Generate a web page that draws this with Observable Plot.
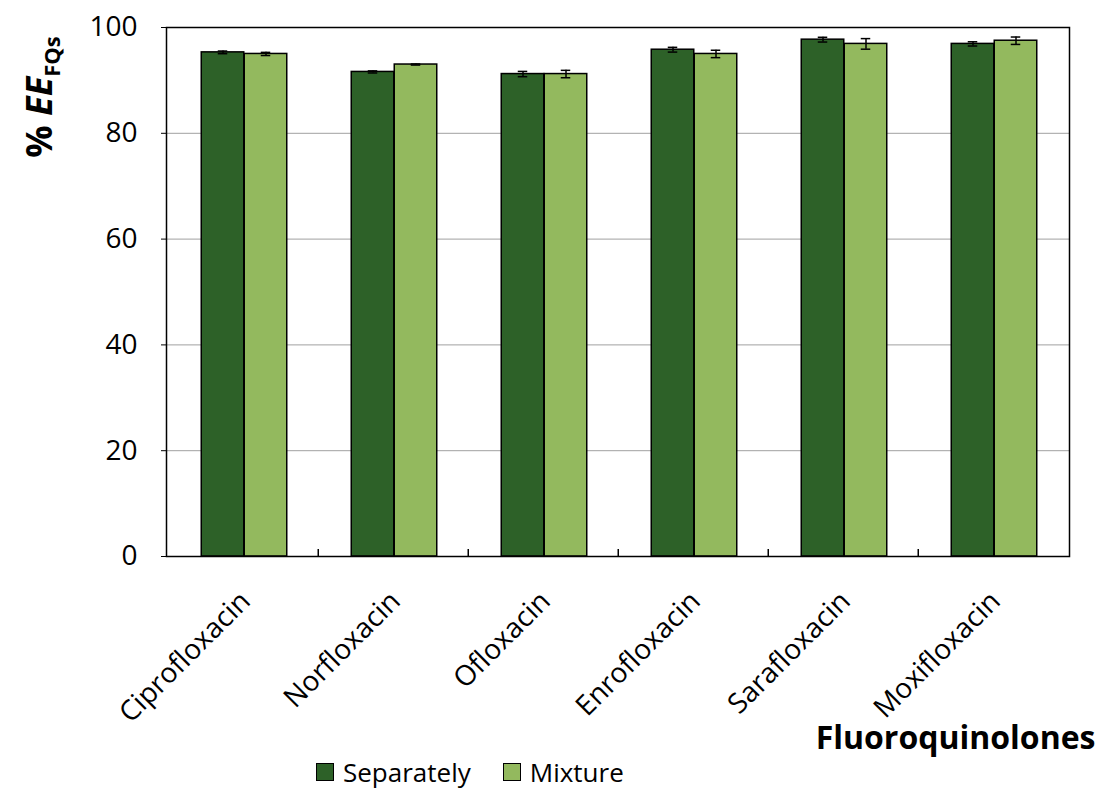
<!DOCTYPE html>
<html>
<head>
<meta charset="utf-8">
<script src="https://cdn.jsdelivr.net/npm/d3@7"></script>
<script src="https://cdn.jsdelivr.net/npm/@observablehq/plot@0.6"></script>
<style>
  body { margin: 0; background: white; font-family: "Open Sans", sans-serif; overflow: hidden; }
  #chart svg { display: block; }
  #legend { display: flex; align-items: center; height: 36px; line-height: 36px; padding-left: 316px; font-size: 26px; color: #000; }
  .sw { display: inline-block; width: 16px; height: 16px; border: 1.5px solid #000; margin-right: 9px; }
  .item { display: flex; align-items: center; margin-right: 32px; }
</style>
</head>
<body>
<div id="chart"></div>
<div id="legend"></div>
<script>
const categories = ["Ciprofloxacin", "Norfloxacin", "Ofloxacin", "Enrofloxacin", "Sarafloxacin", "Moxifloxacin"];
const series = ["Separately", "Mixture"];
const separately = [95.3, 91.6, 91.2, 95.8, 97.7, 96.9];
const separatelyErr = [0.25, 0.2, 0.5, 0.45, 0.45, 0.4];
const mixture = [95.0, 93.0, 91.2, 95.0, 96.9, 97.5];
const mixtureErr = [0.3, 0.1, 0.7, 0.7, 1.0, 0.7];
const yTicks = [0, 20, 40, 60, 80, 100];
const colors = ["#2d6128", "#93b95e"];

const sepRows = categories.map((c, i) => ({cat: c, series: "Separately", value: separately[i], err: separatelyErr[i]}));
const mixRows = categories.map((c, i) => ({cat: c, series: "Mixture", value: mixture[i], err: mixtureErr[i]}));

const W = 1101, H = 754;
const ml = 166, mr = 32, mt = 27, mb = 198;
const B = (W - ml - mr) / categories.length;
const barW = 43;
const capW = 10;

function errMarks(rows, offset) {
  const cx = B / 2 + offset;
  return [
    Plot.ruleX(rows, {x: "cat", y1: d => d.value - d.err, y2: d => d.value + d.err, dx: offset, stroke: "black", strokeWidth: 1.5}),
    Plot.tickY(rows, {x: "cat", y: d => d.value - d.err, insetLeft: cx - capW / 2, insetRight: B - cx - capW / 2, stroke: "black", strokeWidth: 1.5}),
    Plot.tickY(rows, {x: "cat", y: d => d.value + d.err, insetLeft: cx - capW / 2, insetRight: B - cx - capW / 2, stroke: "black", strokeWidth: 1.5})
  ];
}

const plot = Plot.plot({
  width: W,
  height: H,
  marginLeft: ml,
  marginRight: mr,
  marginTop: mt,
  marginBottom: mb,
  style: {fontFamily: "'Open Sans', sans-serif", fontSize: "28px", color: "#000", background: "white", overflow: "visible"},
  x: {type: "band", domain: categories, padding: 0},
  y: {domain: [0, 100]},
  marks: [
    Plot.gridY(yTicks.filter(t => t > 0 && t < 100), {stroke: "#a0a0a0", strokeOpacity: 1, strokeWidth: 1}),
    Plot.barY(sepRows, {x: "cat", y: "value", fill: colors[0], stroke: "black", strokeWidth: 1.5, insetLeft: B / 2 - barW + 1, insetRight: B / 2 - 1}),
    Plot.barY(mixRows, {x: "cat", y: "value", fill: colors[1], stroke: "black", strokeWidth: 1.5, insetLeft: B / 2 + 1, insetRight: B / 2 - barW - 1}),
    ...errMarks(sepRows, -barW / 2 + 1),
    ...errMarks(mixRows, barW / 2 + 1),
    Plot.ruleX(categories.slice(1), {x: d => d, dx: -B / 2, y1: 0, y2: 1.3, stroke: "black", strokeWidth: 1.5}),
    Plot.frame({stroke: "black", strokeWidth: 1.5}),
    Plot.axisY({ticks: yTicks, tickSize: 5, tickPadding: 24, fontSize: 28, label: null}),
    Plot.axisX({tickSize: 0, tickRotate: -45, tickPadding: 40, fontSize: 28, label: null, dx: 2}),
    Plot.text(["Fluoroquinolones"], {text: d => d, frameAnchor: "bottom-right", dx: 26, dy: 192, textAnchor: "end", fontWeight: "bold", fontSize: 32})
  ]
});

const svg = d3.select(plot);
const lab = svg.append("text")
  .attr("transform", "translate(52,97) rotate(-90)")
  .attr("text-anchor", "middle")
  .attr("font-weight", "bold")
  .attr("font-size", 36)
  .attr("fill", "#000");
lab.append("tspan").text("% ");
lab.append("tspan").attr("font-style", "italic").text("EE");
lab.append("tspan").attr("font-size", 22).attr("dy", 8).text("FQs");

document.getElementById("chart").appendChild(plot);

const legend = d3.select("#legend");
series.forEach((s, i) => {
  const it = legend.append("div").attr("class", "item");
  it.append("span").attr("class", "sw").style("background", colors[i]);
  it.append("span").text(s);
});
</script>
</body>
</html>
